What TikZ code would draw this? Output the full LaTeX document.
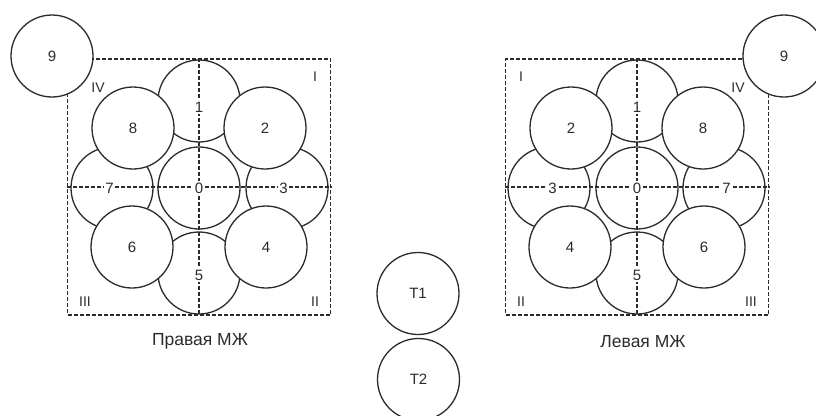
\documentclass[tikz,border=0pt]{standalone}
\usepackage{fontspec}
\setmainfont{Liberation Sans}
\definecolor{ink}{HTML}{2B2B2B}
\tikzset{
  ln/.style={draw=ink, line width=1.3pt},
  ball/.style={ln, circle, fill=white, minimum size=82pt, inner sep=0pt,
    font=\fontsize{15}{15}\selectfont, text=ink},
  frame/.style={ln, dash pattern=on 4pt off 2pt, rectangle,
    minimum width=263pt, minimum height=256pt, inner sep=0pt},
  axisline/.style={draw=ink, line width=1.3pt, dash pattern=on 4pt off 2pt},
  num/.style={fill=white, inner sep=1.5pt, font=\fontsize{15}{15}\selectfont, text=ink},
  quad/.style={inner sep=0pt, font=\fontsize{14}{14}\selectfont, text=ink},
  caption/.style={inner sep=0pt, font=\fontsize{17.5}{18}\selectfont, text=ink}
}
% #1 centre x, #2 mirror sign (1 or -1), #3 name prefix
\newcommand\mzgroup[3]{%
  \node[frame] (#3sq) at (#1,187) {};
  \node[ball] (#3c9) at ({#1-147*#2},56) {9};
  % cardinal cells (drawn first, partly covered)
  \node[ball] (#3c1) at (#1,101) {};
  \node[ball] (#3c5) at (#1,273) {};
  \node[ball] (#3c3) at ({#1+88*#2},188) {};
  \node[ball] (#3c7) at ({#1-87*#2},188) {};
  % diagonal cells
  \node[ball] (#3c2) at ({#1+66*#2},128) {2};
  \node[ball] (#3c8) at ({#1-66*#2},128) {8};
  \node[ball] (#3c4) at ({#1+67*#2},247) {4};
  \node[ball] (#3c6) at ({#1-67*#2},247) {6};
  % centre cell
  \node[ball] (#3c0) at (#1,188) {};
  % axes through the centre
  \draw[axisline] (#3sq.north) -- (#3sq.south);
  \draw[axisline] (#3sq.west) -- (#3sq.east);
  \node[num] (#3n0) at (#1,188) {0};
  \node[num] (#3n1) at (#1,107) {1};
  \node[num] (#3n5) at (#1,275) {5};
  \node[num] (#3n3) at ({#1+84.5*#2},188) {3};
  \node[num] (#3n7) at ({#1-89.5*#2},188) {7};
  % quadrant numbers
  \node[quad] (#3q1) at ({#1+116*#2},77) {I};
  \node[quad] (#3q4) at ({#1-101*#2},88) {IV};
  \node[quad] (#3q2) at ({#1+116*#2},302) {II};
  \node[quad] (#3q3) at ({#1-114*#2},302) {III};
}
\begin{document}
\begin{tikzpicture}[x=1pt,y=-1pt]
\useasboundingbox (0,0) rectangle (816,415);
\mzgroup{199}{1}{L}
\mzgroup{637}{-1}{R}
\node[caption] (capL) at (200,341.5) {Правая МЖ};
\node[caption] (capR) at (643,341.5) {Левая МЖ};
\node[ball] (t1) at (418,293.5) {T1};
\node[ball] (t2) at (418.5,379.5) {T2};
\end{tikzpicture}
\end{document}
